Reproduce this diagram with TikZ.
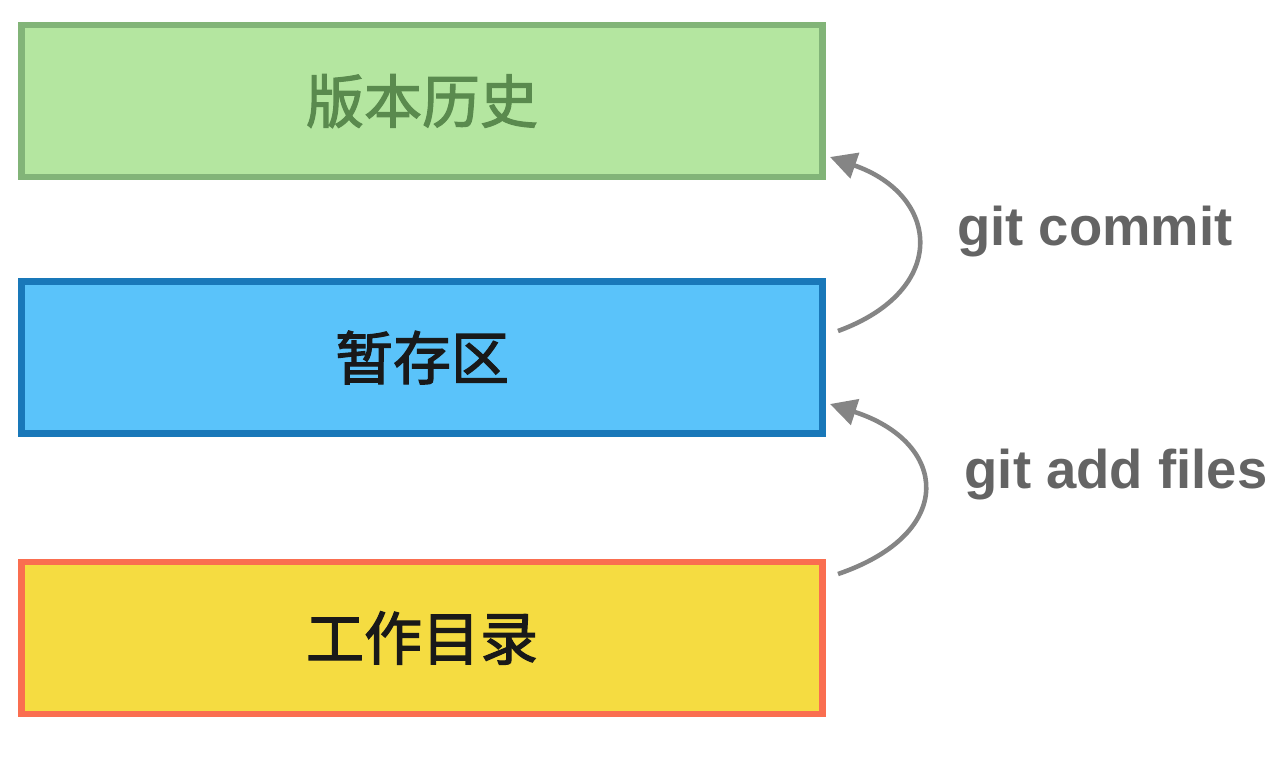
\documentclass[tikz,border=0pt]{standalone}
\usepackage{fontspec}
\setmainfont{Liberation Sans}
\newfontfamily\cjk[FakeBold=2]{Noto Sans CJK SC}
\usepackage{tikz}
\usetikzlibrary{arrows.meta}
\definecolor{histfill}{HTML}{B4E6A0}
\definecolor{histline}{HTML}{82B478}
\definecolor{histtext}{HTML}{5A8A4E}
\definecolor{stagefill}{HTML}{5AC3FA}
\definecolor{stageline}{HTML}{1978B9}
\definecolor{workfill}{HTML}{F5DC41}
\definecolor{workline}{HTML}{FA6E50}
\definecolor{arrowgray}{HTML}{858585}
\definecolor{labelgray}{HTML}{646464}
\tikzset{
  area/.style={draw, line width=3.9pt, minimum width=16.02cm, minimum height=3.04cm, font=\cjk\fontsize{33}{33}\selectfont},
  gitarrow/.style={draw=arrowgray, line width=2.6pt, -{Triangle[length=15pt,width=15pt]}},
  gitlabel/.style={text=labelgray, font=\bfseries\fontsize{31}{31}\selectfont}
}
\begin{document}
\begin{tikzpicture}[x=0.02cm,y=-0.02cm]
      \useasboundingbox (0,0) rectangle (1288,762);
      \node[area, fill=histfill, draw=histline, text=histtext] (history) at (422,101) {版本历史};
      \node[area, fill=stagefill, draw=stageline, text=black!90] (stage) at (422,357.5) {暂存区};
      \node[area, fill=workfill, draw=workline, text=black!90] (work) at (422,638) {工作目录};
      \coordinate (commitstart) at (838,331);
      \coordinate (commitend) at (830,157);
      \coordinate (addstart) at (838,574);
      \coordinate (addend) at (830,404);
      \draw[gitarrow] (commitstart) .. controls (950,290) and (940,195) .. (commitend);
      \draw[gitarrow] (addstart) .. controls (958,533) and (948,442) .. (addend);
      \node[gitlabel] (commit) at (1095,232) {git commit};
      \node[gitlabel] (add) at (1116,475) {git add files};
    \end{tikzpicture}
\end{document}
